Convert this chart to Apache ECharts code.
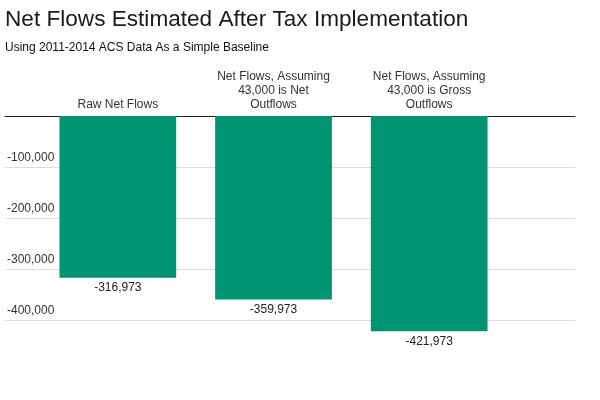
<!DOCTYPE html>
<html><head><meta charset="utf-8">
<script src="https://cdn.jsdelivr.net/npm/echarts@6/dist/echarts.min.js"></script>
<style>html,body{margin:0;padding:0;background:#fff}#c{width:600px;height:400px}</style>
</head><body><div id="c"></div>
<script>
const categories = ["Raw Net Flows", "Net Flows, Assuming\n43,000 is Net\nOutflows", "Net Flows, Assuming\n43,000 is Gross\nOutflows"];
const values = [-316973, -359973, -421973];
const yTicks = [0, -100000, -200000, -300000, -400000];
const font = "'Liberation Sans', Arial, Helvetica, sans-serif";
const fmt = v => v.toLocaleString('en-US');
const chart = echarts.init(document.getElementById('c'));
chart.setOption({
  animation: false,
  textStyle: { fontFamily: font },
  title: [
    { text: "Net Flows Estimated After Tax Implementation", left: 5, top: 8, padding: 0,
      textStyle: { fontSize: 22.6, fontWeight: 'normal', color: '#1a1a1a', fontFamily: font } },
    { text: "Using 2011-2014 ACS Data As a Simple Baseline", left: 5, top: 42, padding: 0,
      textStyle: { fontSize: 12, fontWeight: 'normal', color: '#111', fontFamily: font } }
  ],
  grid: [
    { left: 5, right: 25, top: 116, bottom: 80 },
    { left: 40, width: 467, top: 116, bottom: 80 }
  ],
  xAxis: [
    { gridIndex: 0, type: 'value', position: 'top', min: 0, max: 1,
      axisLine: { show: true, onZero: false, lineStyle: { color: '#222', width: 1 } },
      axisTick: { show: false }, axisLabel: { show: false }, splitLine: { show: false } },
    { gridIndex: 1, type: 'category', position: 'top', data: categories,
      axisLine: { show: false }, axisTick: { show: false },
      axisLabel: { interval: 0, color: '#333', fontSize: 12, lineHeight: 14, margin: 4, fontFamily: font } }
  ],
  yAxis: [
    { gridIndex: 0, type: 'value', min: yTicks[4], max: yTicks[0], interval: 100000,
      axisLine: { show: false }, axisTick: { show: false },
      axisLabel: { inside: true, verticalAlign: 'bottom', margin: 2, color: '#333', fontSize: 12,
        fontFamily: font, padding: [0, 0, 3, 0],
        formatter: v => v === 0 ? '' : fmt(v) },
      splitLine: { show: true, lineStyle: { color: '#dcdcdc', width: 1 } } },
    { gridIndex: 1, type: 'value', min: yTicks[4], max: yTicks[0], show: false }
  ],
  series: [{
    type: 'bar', xAxisIndex: 1, yAxisIndex: 1, data: values, barCategoryGap: '25%',
    clip: false,
    itemStyle: { color: '#009473' },
    label: { show: true, position: 'bottom', distance: 4, color: '#222', fontSize: 12,
      fontFamily: font, formatter: p => fmt(p.value) }
  }]
});
</script></body></html>
